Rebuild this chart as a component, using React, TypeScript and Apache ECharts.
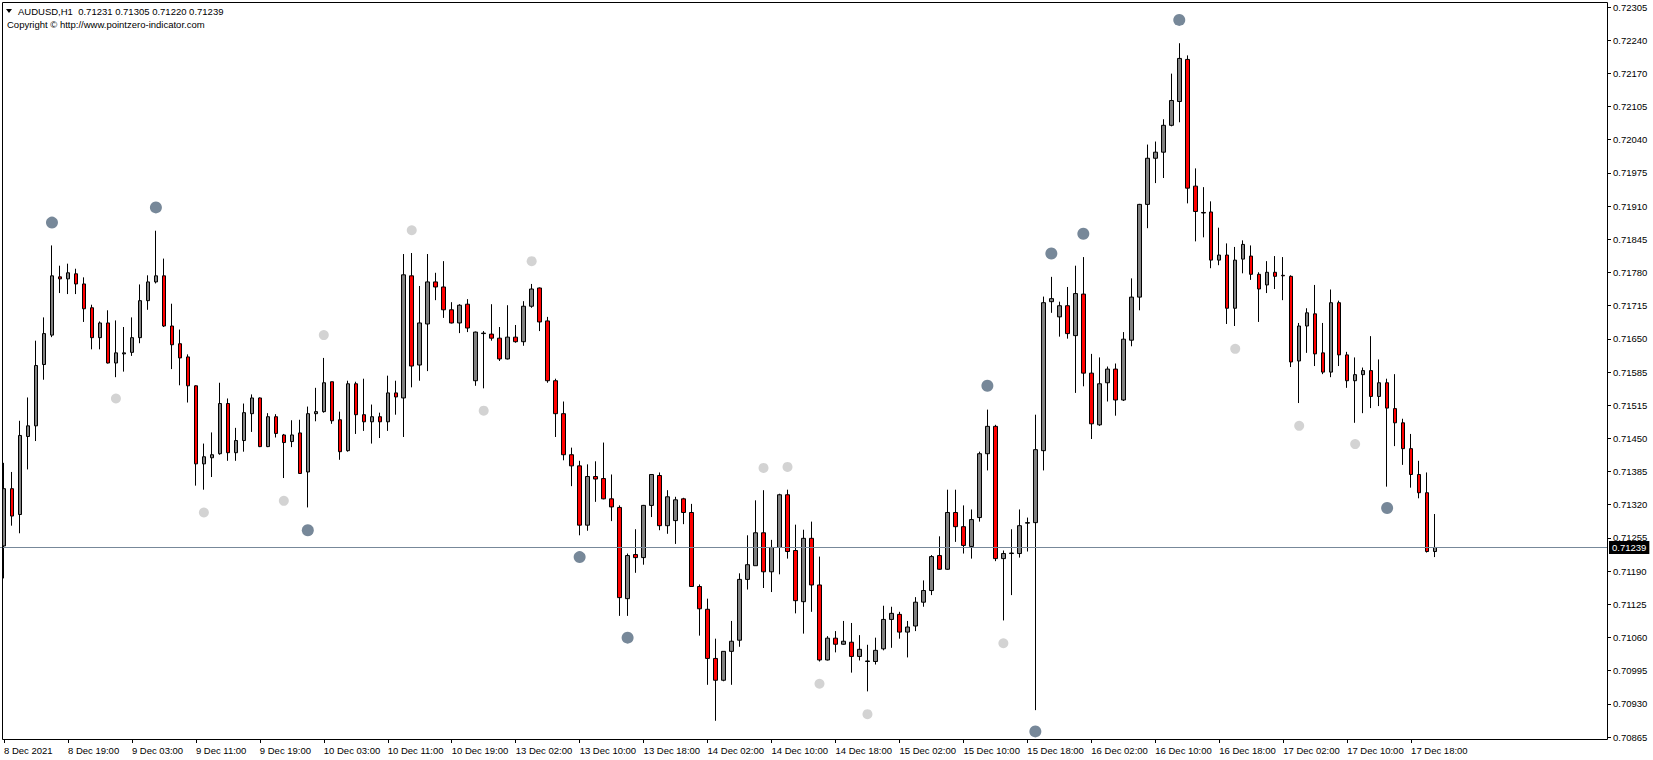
import React, { useEffect, useRef } from "react";
import * as echarts from "echarts";

const xTickLabels = [
  "8 Dec 2021", "8 Dec 19:00", "9 Dec 03:00", "9 Dec 11:00", "9 Dec 19:00",
  "10 Dec 03:00", "10 Dec 11:00", "10 Dec 19:00", "13 Dec 02:00", "13 Dec 10:00",
  "13 Dec 18:00", "14 Dec 02:00", "14 Dec 10:00", "14 Dec 18:00", "15 Dec 02:00",
  "15 Dec 10:00", "15 Dec 18:00", "16 Dec 02:00", "16 Dec 10:00", "16 Dec 18:00",
  "17 Dec 02:00", "17 Dec 10:00", "17 Dec 18:00",
];

const yTickLabels = [
  "0.70865", "0.70930", "0.70995", "0.71060", "0.71125", "0.71190", "0.71255",
  "0.71320", "0.71385", "0.71450", "0.71515", "0.71585", "0.71650", "0.71715",
  "0.71780", "0.71845", "0.71910", "0.71975", "0.72040", "0.72105", "0.72170",
  "0.72240", "0.72305",
];

const Y_MIN = 0.70865;
const Y_MAX = 0.7230547;

const opens = [
  0.71242, 0.71355, 0.71304, 0.71458, 0.71479, 0.71600, 0.71658, 0.71773, 0.71769, 0.71779,
  0.71759, 0.71712, 0.71653, 0.71682, 0.71603, 0.71621, 0.71624, 0.71653, 0.71726, 0.71763,
  0.71775, 0.71676, 0.71641, 0.71615, 0.71558, 0.71404, 0.71416, 0.71424, 0.71523, 0.71426,
  0.71450, 0.71503, 0.71534, 0.71438, 0.71497, 0.71461, 0.71448, 0.71465, 0.71388, 0.71503,
  0.71507, 0.71566, 0.71491, 0.71430, 0.71562, 0.71501, 0.71487, 0.71497, 0.71487, 0.71544,
  0.71534, 0.71775, 0.71599, 0.71680, 0.71763, 0.71753, 0.71708, 0.71682, 0.71719, 0.71568,
  0.71661, 0.71660, 0.71652, 0.71611, 0.71654, 0.71645, 0.71715, 0.71751, 0.71686, 0.71568,
  0.71503, 0.71422, 0.71400, 0.71283, 0.71379, 0.71375, 0.71335, 0.71318, 0.71138, 0.71225,
  0.71219, 0.71322, 0.71381, 0.71282, 0.71292, 0.71335, 0.71308, 0.71162, 0.71117, 0.71020,
  0.70977, 0.71034, 0.71056, 0.71176, 0.71203, 0.71268, 0.71191, 0.71239, 0.71343, 0.71233,
  0.71132, 0.71257, 0.71165, 0.71017, 0.71060, 0.71048, 0.71052, 0.71024, 0.71014, 0.71014,
  0.71039, 0.71097, 0.71107, 0.71072, 0.71084, 0.71131, 0.71154, 0.71223, 0.71196, 0.71308,
  0.71280, 0.71241, 0.71298, 0.71424, 0.71478, 0.71217, 0.71227, 0.71227, 0.71287, 0.71288,
  0.71430, 0.71724, 0.71694, 0.71716, 0.71657, 0.71739, 0.71583, 0.71481, 0.71564, 0.71591,
  0.71530, 0.71648, 0.71733, 0.71916, 0.72007, 0.72019, 0.72072, 0.72119, 0.72202, 0.71952,
  0.71900, 0.71901, 0.71806, 0.71816, 0.71711, 0.71808, 0.71814, 0.71778, 0.71757, 0.71782,
  0.71776, 0.71774, 0.71607, 0.71676, 0.71700, 0.71623, 0.71585, 0.71722, 0.71619, 0.71568,
  0.71580, 0.71588, 0.71537, 0.71564, 0.71513, 0.71485, 0.71434, 0.71383, 0.71347, 0.71231,
];

const highs = [
  0.71406, 0.71388, 0.71489, 0.71535, 0.71647, 0.71693, 0.71835, 0.71795, 0.71799, 0.71789,
  0.71772, 0.71718, 0.71685, 0.71707, 0.71687, 0.71674, 0.71693, 0.71758, 0.71776, 0.71864,
  0.71809, 0.71720, 0.71669, 0.71620, 0.71559, 0.71444, 0.71466, 0.71564, 0.71533, 0.71475,
  0.71523, 0.71541, 0.71535, 0.71504, 0.71502, 0.71463, 0.71490, 0.71491, 0.71517, 0.71554,
  0.71613, 0.71566, 0.71507, 0.71568, 0.71566, 0.71572, 0.71521, 0.71505, 0.71578, 0.71568,
  0.71818, 0.71820, 0.71755, 0.71818, 0.71781, 0.71804, 0.71723, 0.71719, 0.71729, 0.71665,
  0.71666, 0.71719, 0.71674, 0.71717, 0.71678, 0.71725, 0.71759, 0.71752, 0.71694, 0.71572,
  0.71527, 0.71436, 0.71410, 0.71403, 0.71409, 0.71446, 0.71383, 0.71322, 0.71227, 0.71275,
  0.71323, 0.71383, 0.71387, 0.71352, 0.71339, 0.71337, 0.71325, 0.71166, 0.71138, 0.71059,
  0.71034, 0.71094, 0.71188, 0.71263, 0.71332, 0.71352, 0.71254, 0.71345, 0.71353, 0.71284,
  0.71274, 0.71290, 0.71221, 0.71064, 0.71074, 0.71094, 0.71090, 0.71066, 0.71047, 0.71061,
  0.71124, 0.71122, 0.71112, 0.71094, 0.71141, 0.71174, 0.71224, 0.71261, 0.71353, 0.71353,
  0.71322, 0.71314, 0.71428, 0.71511, 0.71481, 0.71233, 0.71275, 0.71314, 0.71298, 0.71501,
  0.71734, 0.71773, 0.71724, 0.71753, 0.71795, 0.71812, 0.71621, 0.71614, 0.71596, 0.71602,
  0.71664, 0.71770, 0.71917, 0.72034, 0.72040, 0.72084, 0.72174, 0.72234, 0.72210, 0.71987,
  0.71950, 0.71922, 0.71870, 0.71839, 0.71832, 0.71845, 0.71835, 0.71782, 0.71804, 0.71814,
  0.71812, 0.71776, 0.71682, 0.71711, 0.71757, 0.71682, 0.71748, 0.71726, 0.71625, 0.71614,
  0.71594, 0.71656, 0.71610, 0.71572, 0.71581, 0.71493, 0.71463, 0.71410, 0.71387, 0.71305,
];

const lows = [
  0.71178, 0.71282, 0.71267, 0.71393, 0.71449, 0.71570, 0.71654, 0.71741, 0.71739, 0.71739,
  0.71684, 0.71630, 0.71630, 0.71602, 0.71575, 0.71586, 0.71617, 0.71642, 0.71708, 0.71760,
  0.71674, 0.71591, 0.71559, 0.71525, 0.71361, 0.71353, 0.71378, 0.71422, 0.71410, 0.71410,
  0.71428, 0.71467, 0.71437, 0.71437, 0.71456, 0.71376, 0.71437, 0.71384, 0.71318, 0.71488,
  0.71505, 0.71483, 0.71412, 0.71428, 0.71463, 0.71469, 0.71444, 0.71455, 0.71469, 0.71501,
  0.71457, 0.71555, 0.71568, 0.71587, 0.71727, 0.71692, 0.71681, 0.71662, 0.71664, 0.71558,
  0.71553, 0.71647, 0.71607, 0.71610, 0.71643, 0.71637, 0.71712, 0.71666, 0.71564, 0.71457,
  0.71411, 0.71360, 0.71263, 0.71272, 0.71329, 0.71334, 0.71291, 0.71104, 0.71104, 0.71189,
  0.71205, 0.71299, 0.71273, 0.71266, 0.71246, 0.71285, 0.71161, 0.71065, 0.70968, 0.70897,
  0.70975, 0.70968, 0.71043, 0.71156, 0.71203, 0.71159, 0.71151, 0.71186, 0.71217, 0.71109,
  0.71069, 0.71112, 0.71014, 0.71016, 0.71032, 0.71047, 0.70992, 0.71016, 0.70955, 0.71008,
  0.71036, 0.71041, 0.71059, 0.71022, 0.71074, 0.71122, 0.71145, 0.71195, 0.71195, 0.71250,
  0.71227, 0.71217, 0.71290, 0.71391, 0.71212, 0.71095, 0.71145, 0.71219, 0.71231, 0.70918,
  0.71391, 0.71702, 0.71655, 0.71651, 0.71544, 0.71557, 0.71453, 0.71479, 0.71527, 0.71499,
  0.71528, 0.71636, 0.71707, 0.71869, 0.71958, 0.71968, 0.72070, 0.72078, 0.71918, 0.71843,
  0.71851, 0.71790, 0.71796, 0.71680, 0.71676, 0.71780, 0.71767, 0.71684, 0.71741, 0.71749,
  0.71727, 0.71595, 0.71524, 0.71623, 0.71597, 0.71581, 0.71575, 0.71597, 0.71554, 0.71485,
  0.71504, 0.71514, 0.71518, 0.71359, 0.71439, 0.71402, 0.71357, 0.71336, 0.71229, 0.71220,
];

const closes = [
  0.71355, 0.71301, 0.71460, 0.71479, 0.71598, 0.71661, 0.71775, 0.71769, 0.71781, 0.71759,
  0.71710, 0.71653, 0.71682, 0.71603, 0.71623, 0.71623, 0.71653, 0.71726, 0.71763, 0.71775,
  0.71676, 0.71639, 0.71613, 0.71558, 0.71404, 0.71418, 0.71422, 0.71523, 0.71426, 0.71450,
  0.71505, 0.71534, 0.71438, 0.71497, 0.71464, 0.71446, 0.71461, 0.71385, 0.71503, 0.71507,
  0.71564, 0.71489, 0.71428, 0.71562, 0.71501, 0.71487, 0.71497, 0.71487, 0.71544, 0.71536,
  0.71777, 0.71597, 0.71682, 0.71763, 0.71753, 0.71708, 0.71682, 0.71717, 0.71672, 0.71664,
  0.71662, 0.71652, 0.71611, 0.71654, 0.71645, 0.71715, 0.71749, 0.71684, 0.71568, 0.71503,
  0.71422, 0.71400, 0.71283, 0.71379, 0.71374, 0.71335, 0.71319, 0.71140, 0.71223, 0.71219,
  0.71322, 0.71383, 0.71282, 0.71339, 0.71333, 0.71308, 0.71162, 0.71118, 0.71020, 0.70977,
  0.71034, 0.71054, 0.71176, 0.71205, 0.71268, 0.71191, 0.71239, 0.71343, 0.71231, 0.71134,
  0.71257, 0.71165, 0.71017, 0.71060, 0.71048, 0.71054, 0.71024, 0.71038, 0.71015, 0.71036,
  0.71097, 0.71109, 0.71072, 0.71082, 0.71131, 0.71154, 0.71221, 0.71196, 0.71308, 0.71280,
  0.71243, 0.71294, 0.71424, 0.71478, 0.71217, 0.71227, 0.71228, 0.71282, 0.71288, 0.71432,
  0.71722, 0.71730, 0.71716, 0.71661, 0.71740, 0.71583, 0.71483, 0.71562, 0.71591, 0.71530,
  0.71650, 0.71733, 0.71916, 0.72007, 0.72019, 0.72072, 0.72121, 0.72204, 0.71948, 0.71902,
  0.71899, 0.71806, 0.71816, 0.71711, 0.71806, 0.71837, 0.71778, 0.71749, 0.71782, 0.71774,
  0.71775, 0.71605, 0.71676, 0.71702, 0.71621, 0.71585, 0.71722, 0.71619, 0.71568, 0.71580,
  0.71588, 0.71537, 0.71564, 0.71514, 0.71485, 0.71434, 0.71383, 0.71347, 0.71231, 0.71239,
];

// fractal-style markers: [bar index, price]
const upperDots: [number, number][] = [
  [6, 0.71880], [19, 0.71910], [38, 0.71273], [72, 0.71220], [78, 0.71061], [89, 0.70859],
  [123, 0.71558], [129, 0.70876], [131, 0.71819], [135, 0.71858], [147, 0.72280], [173, 0.71317],
];
const lowerDots: [number, number][] = [
  [14, 0.71533], [25, 0.71308], [35, 0.71331], [40, 0.71658], [51, 0.71865], [60, 0.71509],
  [66, 0.71804], [95, 0.71396], [98, 0.71398], [102, 0.70970], [108, 0.70910], [125, 0.71050],
  [154, 0.71631], [162, 0.71479], [169, 0.71443],
];

const lastPrice = 0.71239;
const titleText = "AUDUSD,H1  0.71231 0.71305 0.71220 0.71239";
const copyrightText = "Copyright \u00A9 http://www.pointzero-indicator.com";

const SLOT_COUNT = 201;
const LABEL_STEP = 8;
const FONT = '"Liberation Sans", Arial, sans-serif';

export default function App() {
  const ref = useRef<HTMLDivElement>(null);

  useEffect(() => {
    if (!ref.current) return;
    const chart = echarts.init(ref.current, undefined, { renderer: "svg" });
    const categories = Array.from({ length: SLOT_COUNT }, (_, i) => String(i));
    const showX = (i: number) => i % LABEL_STEP === 0 && i / LABEL_STEP < xTickLabels.length;
    const candles = opens.map((o, i) => [o, closes[i], lows[i], highs[i]]);

    chart.setOption({
      animation: false,
      backgroundColor: "#ffffff",
      grid: { left: -1, right: 46, top: 7, bottom: 23, containLabel: false },
      xAxis: {
        type: "category",
        data: categories,
        boundaryGap: true,
        offset: 2,
        axisLine: { show: false },
        axisTick: {
          show: true,
          alignWithLabel: true,
          interval: (i: number) => showX(i),
          length: 4,
          lineStyle: { color: "#000", width: 1 },
        },
        axisLabel: {
          interval: (i: number) => showX(i),
          formatter: (_v: string, i: number) => xTickLabels[i / LABEL_STEP] ?? "",
          align: "left",
          margin: 6,
          fontSize: 9.5,
          fontFamily: FONT,
          color: "#000",
        },
        splitLine: { show: false },
      },
      yAxis: [
        { type: "value", min: Y_MIN, max: Y_MAX, show: false, position: "left", splitLine: { show: false } },
        {
          type: "category",
          data: yTickLabels,
          boundaryGap: false,
          position: "right",
          axisLine: { show: false },
          axisTick: { show: true, length: 4, lineStyle: { color: "#000", width: 1 } },
          axisLabel: { interval: 0, margin: 6, fontSize: 9.5, fontFamily: FONT, color: "#000" },
          splitLine: { show: false },
        },
      ],
      series: [
        {
          type: "scatter",
          xAxisIndex: 0,
          yAxisIndex: 0,
          data: [],
          z: 1,
          silent: true,
          markLine: {
            silent: true,
            precision: 5,
            symbol: ["none", "none"],
            lineStyle: { color: "#778899", width: 1, type: "solid" },
            label: {
              show: true,
              position: "end",
              distance: 2,
              formatter: lastPrice.toFixed(5),
              backgroundColor: "#000",
              color: "#fff",
              fontSize: 9.5,
              fontFamily: FONT,
              padding: [2, 3, 1, 3],
            },
            data: [{ yAxis: lastPrice }],
          },
        },
        {
          type: "candlestick",
          xAxisIndex: 0,
          yAxisIndex: 0,
          data: candles,
          barWidth: 4,
          z: 3,
          silent: true,
          itemStyle: {
            color: "#808080",
            color0: "#ff0000",
            borderColor: "#000",
            borderColor0: "#000",
            borderColorDoji: "#000",
            borderWidth: 1,
          },
        },
        {
          type: "scatter",
          xAxisIndex: 0,
          yAxisIndex: 0,
          data: upperDots,
          symbol: "circle",
          symbolSize: 12,
          z: 4,
          silent: true,
          itemStyle: { color: "#778899", opacity: 1 },
        },
        {
          type: "scatter",
          xAxisIndex: 0,
          yAxisIndex: 0,
          data: lowerDots,
          symbol: "circle",
          symbolSize: 10,
          z: 4,
          silent: true,
          itemStyle: { color: "#d3d3d3", opacity: 1 },
        },
      ],
      graphic: [
        {
          type: "rect",
          silent: true,
          z: 100,
          shape: { x: 2.5, y: 2.5, width: 1605, height: 737 },
          style: { fill: "none", stroke: "#000", lineWidth: 1 },
        },
        {
          type: "polygon",
          silent: true,
          z: 100,
          shape: { points: [[6, 9], [12, 9], [9, 13]] },
          style: { fill: "#000" },
        },
        {
          type: "text",
          silent: true,
          z: 100,
          x: 18,
          y: 6,
          style: { text: titleText, fontSize: 9.5, fontFamily: FONT, fill: "#000" },
        },
        {
          type: "text",
          silent: true,
          z: 100,
          x: 7,
          y: 19.5,
          style: { text: copyrightText, fontSize: 9.5, fontFamily: FONT, fill: "#000" },
        },
      ],
    });

    return () => chart.dispose();
  }, []);

  return (
    <div
      ref={ref}
      style={{ position: "absolute", left: 0, top: 0, width: 1653, height: 760, background: "#fff" }}
    />
  );
}
